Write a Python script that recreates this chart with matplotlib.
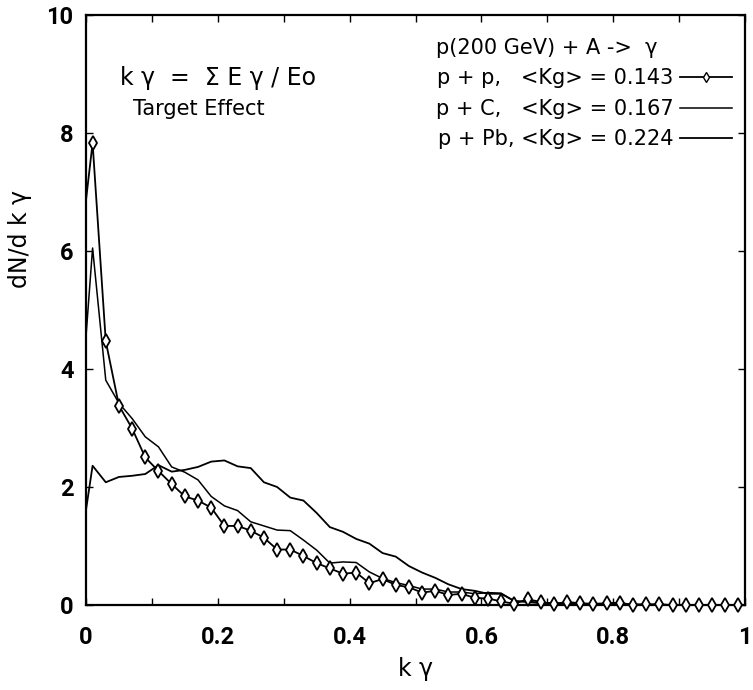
import matplotlib.pyplot as plt

# bin centres of k_gamma (first entry is the x=0 start of each curve)
k_gamma = [0.0,
           0.01, 0.03, 0.05, 0.07, 0.09, 0.11, 0.13, 0.15, 0.17, 0.19,
           0.21, 0.23, 0.25, 0.27, 0.29, 0.31, 0.33, 0.35, 0.37, 0.39,
           0.41, 0.43, 0.45, 0.47, 0.49, 0.51, 0.53, 0.55, 0.57, 0.59,
           0.61, 0.63, 0.65, 0.67, 0.69, 0.71, 0.73, 0.75, 0.77, 0.79,
           0.81, 0.83, 0.85, 0.87, 0.89, 0.91, 0.93, 0.95, 0.97, 0.99]

dn_pp = [6.86,
         7.83, 4.47, 3.38, 2.99, 2.50, 2.27, 2.05, 1.84, 1.77, 1.65,
         1.34, 1.34, 1.26, 1.14, 0.94, 0.94, 0.83, 0.71, 0.62, 0.53,
         0.55, 0.37, 0.44, 0.34, 0.30, 0.21, 0.24, 0.17, 0.19, 0.12,
         0.11, 0.06, 0.02, 0.10, 0.05, 0.02, 0.05, 0.03, 0.02, 0.03,
         0.04, 0.00, 0.01, 0.01, 0.00, 0.00, 0.00, 0.00, 0.00, 0.00]

dn_pc = [4.55,
         6.05, 3.81, 3.42, 3.16, 2.85, 2.68, 2.34, 2.25, 2.12, 1.84,
         1.68, 1.60, 1.41, 1.34, 1.27, 1.26, 1.10, 0.93, 0.71, 0.73,
         0.72, 0.56, 0.45, 0.38, 0.33, 0.27, 0.27, 0.22, 0.22, 0.19,
         0.21, 0.20, 0.06, 0.06, 0.04, 0.03, 0.03, 0.02, 0.02, 0.02,
         0.01, 0.01, 0.01, 0.01, 0.00, 0.00, 0.00, 0.00, 0.00, 0.00]

dn_ppb = [1.61,
          2.36, 2.08, 2.17, 2.19, 2.22, 2.37, 2.26, 2.29, 2.34, 2.43,
          2.45, 2.35, 2.32, 2.08, 2.00, 1.82, 1.77, 1.56, 1.32, 1.24,
          1.12, 1.04, 0.88, 0.82, 0.66, 0.55, 0.46, 0.35, 0.27, 0.24,
          0.19, 0.19, 0.07, 0.05, 0.03, 0.02, 0.02, 0.02, 0.01, 0.01,
          0.01, 0.01, 0.00, 0.00, 0.00, 0.00, 0.00, 0.00, 0.00, 0.00]

labels = ["p + p,   <Kg> = 0.143",
          "p + C,   <Kg> = 0.167",
          "p + Pb, <Kg> = 0.224"]

x_ticks = [0, 0.1, 0.2, 0.3, 0.4, 0.5, 0.6, 0.7, 0.8, 0.9, 1.0]
x_ticklabels = ["0", "", "0.2", "", "0.4", "", "0.6", "", "0.8", "", "1"]
y_ticks = [0, 2, 4, 6, 8, 10]

plt.rcParams["font.family"] = ["DejaVu Sans"]

fig = plt.figure(figsize=(7.53, 6.90), dpi=100)
ax = fig.add_axes([0.1142, 0.1232, 0.8752, 0.8551])

ax.plot(k_gamma, dn_pp, color="black", linewidth=1.3, marker="d",
        markersize=7, markerfacecolor="white", markeredgecolor="black",
        markeredgewidth=1.3, markevery=list(range(1, len(k_gamma))),
        clip_on=False, zorder=3, label=labels[0])
ax.plot(k_gamma, dn_pc, color="black", linewidth=1.1, label=labels[1])
ax.plot(k_gamma, dn_ppb, color="black", linewidth=1.3, label=labels[2])

ax.set_xlim(0, 1)
ax.set_ylim(0, 10)
ax.set_xticks(x_ticks)
ax.set_xticklabels(x_ticklabels)
ax.set_yticks(y_ticks)
ax.tick_params(direction="in", length=5, width=1.0, top=True, right=True)
ax.tick_params(axis="x", pad=15)
ax.tick_params(axis="y", pad=9)
for lab in ax.get_xticklabels() + ax.get_yticklabels():
    lab.set_family("Roboto")
    lab.set_fontweight("bold")
    lab.set_fontsize(17)
for sp in ax.spines.values():
    sp.set_linewidth(1.6)

ax.set_xlabel("k γ", fontsize=17, labelpad=6)
ax.set_ylabel("dN/d k γ", fontsize=17)
ax.yaxis.set_label_coords(-0.082, 0.62)

ax.text(0.052, 0.893, "k γ  =  Σ E γ / Eo",
        transform=ax.transAxes, fontsize=17, va="center", ha="left")
ax.text(0.072, 0.84, "Target Effect", transform=ax.transAxes,
        fontsize=15, va="center", ha="left")

leg = ax.legend(loc="upper right", bbox_to_anchor=(0.986, 0.968),
                frameon=False, markerfirst=False,
                fontsize=15, handlelength=2.5, labelspacing=0.5,
                borderaxespad=0.0, borderpad=0.2, handletextpad=0.3,
                title="p(200 GeV) + A ->  γ", title_fontsize=15,
                alignment="left")
for h in leg.legend_handles:
    h.set_markersize(5)
    h.set_markeredgewidth(1.0)

fig.savefig("out.png", dpi=100)
